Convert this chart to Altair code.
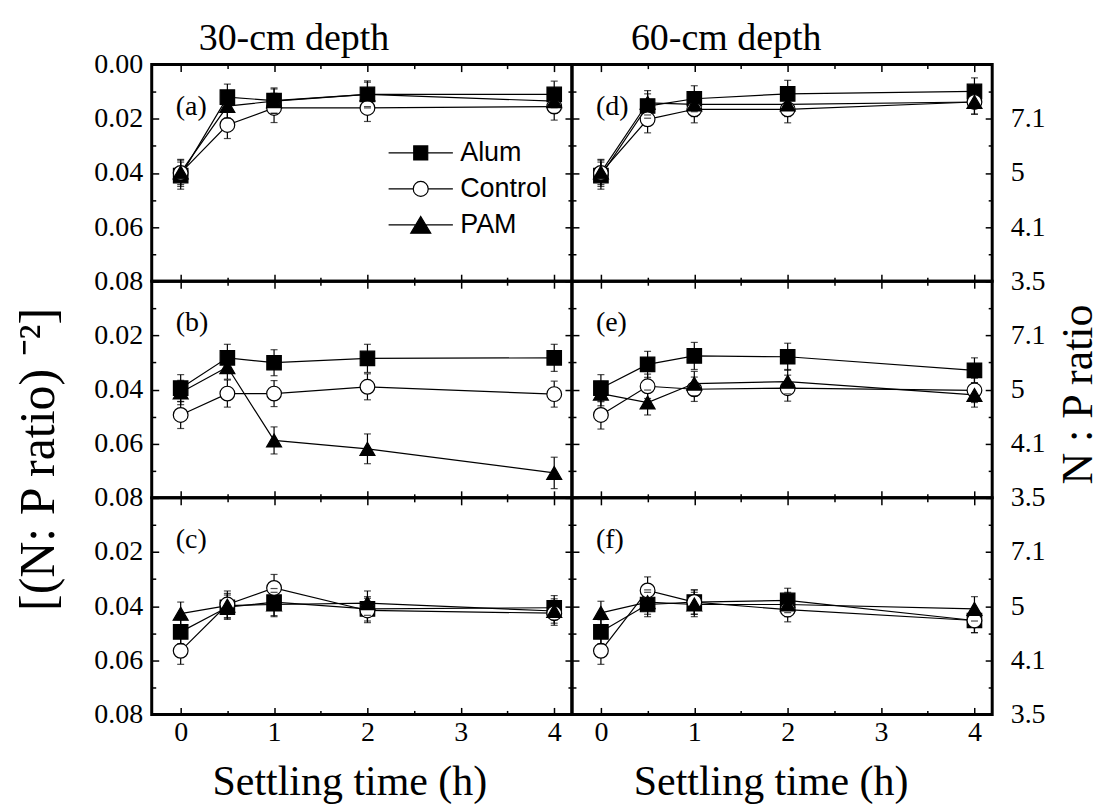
import altair as alt
import pandas as pd

# ---------------- data ----------------
times = [0, 0.5, 1, 2, 4]
treatments = ["Alum", "Control", "PAM"]

# [(N:P ratio)^-2] values
a_alum = [0.0410, 0.0120, 0.0133, 0.0110, 0.0110]
a_control = [0.0400, 0.0223, 0.0160, 0.0160, 0.0155]
a_pam = [0.0398, 0.0153, 0.0135, 0.0110, 0.0135]
a_alum_err = [0.0050, 0.0048, 0.0047, 0.0050, 0.0049]
a_control_err = [0.0050, 0.0050, 0.0054, 0.0050, 0.0050]
a_pam_err = [0.0045, 0.0045, 0.0045, 0.0045, 0.0045]

d_alum = [0.0410, 0.0153, 0.0126, 0.0108, 0.0099]
d_control = [0.0400, 0.0202, 0.0165, 0.0165, 0.0138]
d_pam = [0.0398, 0.0141, 0.0147, 0.0147, 0.0138]
d_alum_err = [0.0050, 0.0045, 0.0048, 0.0050, 0.0050]
d_control_err = [0.0050, 0.0050, 0.0050, 0.0050, 0.0045]
d_pam_err = [0.0045, 0.0045, 0.0045, 0.0045, 0.0045]

b_alum = [0.0395, 0.0283, 0.0301, 0.0285, 0.0283]
b_control = [0.0494, 0.0415, 0.0415, 0.0390, 0.0417]
b_pam = [0.0411, 0.0317, 0.0588, 0.0619, 0.0708]
b_alum_err = [0.0050, 0.0050, 0.0048, 0.0052, 0.0050]
b_control_err = [0.0050, 0.0050, 0.0048, 0.0048, 0.0048]
b_pam_err = [0.0045, 0.0045, 0.0050, 0.0055, 0.0058]

e_alum = [0.0395, 0.0307, 0.0276, 0.0279, 0.0329]
e_control = [0.0494, 0.0388, 0.0399, 0.0395, 0.0403]
e_pam = [0.0415, 0.0448, 0.0378, 0.0371, 0.0420]
e_alum_err = [0.0050, 0.0048, 0.0050, 0.0050, 0.0046]
e_control_err = [0.0052, 0.0045, 0.0045, 0.0048, 0.0045]
e_pam_err = [0.0045, 0.0046, 0.0045, 0.0045, 0.0045]

c_alum = [0.0495, 0.0404, 0.0385, 0.0410, 0.0406]
c_control = [0.0565, 0.0394, 0.0333, 0.0416, 0.0426]
c_pam = [0.0428, 0.0398, 0.0394, 0.0389, 0.0418]
c_alum_err = [0.0045, 0.0045, 0.0050, 0.0045, 0.0045]
c_control_err = [0.0050, 0.0050, 0.0050, 0.0045, 0.0045]
c_pam_err = [0.0043, 0.0045, 0.0045, 0.0045, 0.0045]

f_alum = [0.0495, 0.0394, 0.0385, 0.0379, 0.0453]
f_control = [0.0565, 0.0342, 0.0385, 0.0413, 0.0453]
f_pam = [0.0425, 0.0385, 0.0394, 0.0394, 0.0410]
f_alum_err = [0.0045, 0.0045, 0.0045, 0.0045, 0.0045]
f_control_err = [0.0050, 0.0050, 0.0045, 0.0045, 0.0045]
f_pam_err = [0.0043, 0.0045, 0.0045, 0.0045, 0.0045]

panels_data = {
    "a": ([a_alum, a_control, a_pam], [a_alum_err, a_control_err, a_pam_err]),
    "d": ([d_alum, d_control, d_pam], [d_alum_err, d_control_err, d_pam_err]),
    "b": ([b_alum, b_control, b_pam], [b_alum_err, b_control_err, b_pam_err]),
    "e": ([e_alum, e_control, e_pam], [e_alum_err, e_control_err, e_pam_err]),
    "c": ([c_alum, c_control, c_pam], [c_alum_err, c_control_err, c_pam_err]),
    "f": ([f_alum, f_control, f_pam], [f_alum_err, f_control_err, f_pam_err]),
}
grid_order = ["a", "d", "b", "e", "c", "f"]
column_titles = ["30-cm depth", "60-cm depth"]

x_major = [0, 1, 2, 3, 4]
x_minor = [0.5, 1.5, 2.5, 3.5]
y_major = [0.0, 0.02, 0.04, 0.06, 0.08]
y_minor = [0.01, 0.03, 0.05, 0.07]

# ---------------- style ----------------
SERIF = "Liberation Serif"
SANS = "Liberation Sans"
W, H = 421, 217
XDOM = [-0.31, 4.19]
YDOM = [0.0, 0.08]
shapes = ["square", "circle", "triangle-up"]
fills = ["black", "white", "black"]
strokes = ["black", "black", "black"]
sizes = [210, 225, 360]
legend_paths = [
    "M-4.6,0L-1,0M1,0L4.6,0M-1,-1L1,-1L1,1L-1,1Z",
    "M-4.6,0L-1.07,0M1.07,0L4.6,0M-1.07,0A1.07,1.07,0,1,1,1.07,0A1.07,1.07,0,1,1,-1.07,0Z",
    "M-4.6,0L4.6,0M0,-1.2L1.43,1.2L-1.43,1.2Z",
]
MAJ, MIN = 7, 4


def panel_frame(pid):
    vals, errs = panels_data[pid]
    rows = []
    for tr, v, e in zip(treatments, vals, errs):
        for t, vv, ee in zip(times, v, e):
            rows.append({"treatment": tr, "time": t, "value": vv,
                         "lo": vv - ee, "hi": vv + ee})
    return pd.DataFrame(rows)


def make_panel(pid, row, col):
    df = panel_frame(pid)
    xs = alt.Scale(domain=XDOM, nice=False, zero=False)
    ys = alt.Scale(domain=YDOM, nice=False, zero=False, reverse=True)
    is_bottom = row == 2
    is_left = col == 0

    def xaxis(orient, major):
        show = major and orient == "bottom" and is_bottom
        ln = MAJ if major else MIN
        kw = dict(orient=orient, values=x_major if major else x_minor,
                  tickSize=ln, offset=-ln,
                  tickWidth=1.5, tickColor="black", domain=False, grid=False,
                  labels=show, title=None)
        if show:
            kw.update(labelFont=SERIF, labelFontSize=28, labelColor="black",
                      labelPadding=4, labelFlush=False, labelOverlap=False,
                      title="Settling time (h)", titleFont=SERIF, titleFontSize=42,
                      titleFontWeight="normal", titleColor="black",
                      titleX=198 if is_left else 199, titleY=87,
                      titleBaseline="alphabetic", titleAlign="center")
        return alt.Axis(**kw)

    def yaxis(orient, major):
        show = major and ((orient == "left" and is_left) or (orient == "right" and not is_left))
        ln = MAJ if major else MIN
        kw = dict(orient=orient, values=y_major if major else y_minor,
                  tickSize=ln, offset=-ln,
                  tickWidth=1.5, tickColor="black", domain=False, grid=False,
                  labels=show, title=None)
        if show:
            if orient == "left":
                if row == 0:
                    expr = "format(datum.value, '.2f')"
                else:
                    expr = "datum.value == 0 ? '' : format(datum.value, '.2f')"
                pad = 9
            else:
                expr = ("datum.value == 0 ? '' : (datum.value == 0.04 ? '5' : "
                        "format(1 / sqrt(datum.value), '.1f'))")
                pad = 18
            kw.update(labelExpr=expr, labelFont=SERIF, labelFontSize=28,
                      labelColor="black", labelPadding=pad, labelFlush=False,
                      labelOverlap=False)
            if row == 1:
                if orient == "left":
                    kw.update(title="[(N: P ratio) \u207b\u00b2]", titleX=-120, titleY=178,
                              titleFontSize=50)
                else:
                    kw.update(title="N : P ratio", titleX=93, titleY=113,
                              titleFontSize=44)
                kw.update(titleFont=SERIF, titleFontWeight="normal",
                          titleColor="black", titleAngle=270, titleBaseline="middle",
                          titleAlign="center")
        return alt.Axis(**kw)

    base = alt.Chart(df)
    line = base.mark_line(color="black", strokeWidth=1.2).encode(
        x=alt.X("time:Q", scale=xs, axis=xaxis("bottom", True)),
        y=alt.Y("value:Q", scale=ys, axis=yaxis("left", True)),
        detail="treatment:N",
    )
    rules = base.mark_rule(color="black", strokeWidth=1.2).encode(
        x=alt.X("time:Q", scale=xs, axis=xaxis("top", True)),
        y=alt.Y("lo:Q", scale=ys, axis=yaxis("right", True)),
        y2="hi:Q",
    )
    points = base.mark_point(filled=True, stroke="black", strokeWidth=1.2, opacity=1).encode(
        x=alt.X("time:Q", scale=xs, axis=xaxis("bottom", False)),
        y=alt.Y("value:Q", scale=ys, axis=yaxis("left", False)),
        shape=alt.Shape("treatment:N", scale=alt.Scale(domain=treatments, range=shapes), legend=None),
        fill=alt.Fill("treatment:N", scale=alt.Scale(domain=treatments, range=fills), legend=None),
        size=alt.Size("treatment:N", scale=alt.Scale(domain=treatments, range=sizes), legend=None),
    )
    cap_lo = base.mark_tick(orient="horizontal", color="black", size=7, thickness=1.2).encode(
        x=alt.X("time:Q", scale=xs, axis=xaxis("top", False)),
        y=alt.Y("lo:Q", scale=ys, axis=yaxis("right", False)),
    )
    cap_hi = base.mark_tick(orient="horizontal", color="black", size=7, thickness=1.2).encode(
        x=alt.X("time:Q", scale=xs, axis=None),
        y=alt.Y("hi:Q", scale=ys, axis=None),
    )
    label = alt.Chart(pd.DataFrame({"label": [f"({pid})"]})).mark_text(
        font=SERIF, fontSize=28, align="left", baseline="middle", color="black"
    ).encode(text="label:N", x=alt.value(24), y=alt.value(42))

    layers = [line, rules, points, cap_lo, cap_hi, label]
    if pid == "a":
        leg = alt.Legend(title=None, orient="none", legendX=256, legendY=75,
                         labelFont=SANS, labelFontSize=27, labelColor="black",
                         symbolSize=196, symbolStrokeWidth=1.2,
                         labelOffset=26, rowPadding=8, padding=0, symbolOpacity=1)
        dummy = base.mark_point(filled=True, strokeWidth=1.2).encode(
            x=alt.X("time:Q", scale=xs, axis=None),
            y=alt.Y("value:Q", scale=ys, axis=None),
            shape=alt.Shape("treatment:N", scale=alt.Scale(domain=treatments, range=legend_paths), legend=leg),
            fill=alt.Fill("treatment:N", scale=alt.Scale(domain=treatments, range=fills), legend=leg),
            stroke=alt.Stroke("treatment:N", scale=alt.Scale(domain=treatments, range=strokes), legend=leg),
            size=alt.value(0),
        )
        layers.append(dummy)

    chart = alt.layer(*layers).resolve_axis(x="independent", y="independent").resolve_scale(
        shape="independent", fill="independent", size="independent", stroke="independent"
    ).properties(width=W, height=H)
    if row == 0:
        chart = chart.properties(title=alt.TitleParams(
            column_titles[col], font=SERIF, fontSize=38, fontWeight="normal",
            color="black", anchor="middle", dx=-68 if col == 0 else -56, offset=-7))
    return chart


panels = []
for i, pid in enumerate(grid_order):
    panels.append(make_panel(pid, i // 2, i % 2))

chart = alt.concat(*panels, columns=2, spacing=0).resolve_scale(
    x="independent", y="independent", shape="independent", fill="independent",
    size="independent", stroke="independent"
).properties(
    bounds="flush", padding={"left": 12, "top": 17, "right": 0, "bottom": 0}
).configure(font=SERIF, background="white").configure_view(stroke="black", strokeWidth=3)

chart.save("out.html", embed_options={"renderer": "svg", "actions": False})
